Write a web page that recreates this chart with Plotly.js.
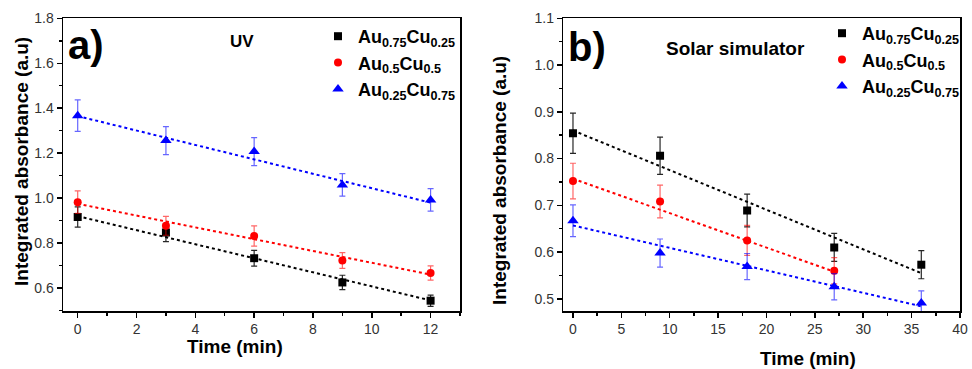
<!DOCTYPE html>
<html><head><meta charset="utf-8">
<script src="https://cdn.plot.ly/plotly-3.0.1.min.js"></script>
<style>body{margin:0;background:#fff}#chart{width:972px;height:369px}</style>
</head><body><div id="chart"></div>
<script>
// ---- Data: panel a) UV ----
const timeUV = [0, 3, 6, 9, 12];
const uvAu75 = [0.916, 0.847, 0.733, 0.625, 0.544];
const uvAu75Err = [0.045, 0.04, 0.035, 0.032, 0.025];
const uvAu50 = [0.982, 0.877, 0.832, 0.723, 0.667];
const uvAu50Err = [0.05, 0.042, 0.045, 0.035, 0.032];
const uvAu25 = [1.367, 1.256, 1.207, 1.059, 0.992];
const uvAu25Err = [0.07, 0.062, 0.062, 0.05, 0.05];
const fitUVx = [0, 12];
const fitUVAu75 = [0.92, 0.545];
const fitUVAu50 = [0.975, 0.66];
const fitUVAu25 = [1.365, 0.98];

// ---- Data: panel b) Solar simulator ----
const timeSol = [0, 9, 18, 27, 36];
const solAu75 = [0.854, 0.806, 0.689, 0.610, 0.573];
const solAu75Err = [0.043, 0.04, 0.035, 0.03, 0.03];
const timeSolAu50 = [0, 9, 18, 27];
const solAu50 = [0.752, 0.708, 0.625, 0.560];
const solAu50Err = [0.038, 0.035, 0.032, 0.028];
const solAu25 = [0.667, 0.598, 0.569, 0.526, 0.491];
const solAu25Err = [0.034, 0.03, 0.028, 0.028, 0.026];
const fitSolx = [0, 36];
const fitSolAu75 = [0.86, 0.555];
const fitSolAu50x = [0, 27];
const fitSolAu50 = [0.757, 0.558];
const fitSolAu25 = [0.657, 0.484];

const names = ['<b>Au<sub>0.75</sub>Cu<sub>0.25</sub></b>', '<b>Au<sub>0.5</sub>Cu<sub>0.5</sub></b>', '<b>Au<sub>0.25</sub>Cu<sub>0.75</sub></b>'];
const colors = ['#000000', '#ff0000', '#0000ff'];
const errColors = ['rgba(0,0,0,0.85)', 'rgba(255,0,0,0.6)', 'rgba(0,0,255,0.6)'];
const symbols = ['square', 'circle', 'triangle-up'];
const sizes = [8, 8, 10];

function fit(x, y, c, xa, ya) {
  return {x, y, xaxis: xa, yaxis: ya, mode: 'lines', showlegend: false, hoverinfo: 'skip',
    line: {color: c, dash: 'dot', width: 2}};
}
function pts(x, y, e, i, xa, ya, leg) {
  return {x, y, xaxis: xa, yaxis: ya, mode: 'markers', name: names[i], legend: leg,
    marker: {symbol: symbols[i], size: sizes[i], color: colors[i]},
    error_y: {type: 'data', array: e, visible: true, color: errColors[i], thickness: 1.2, width: 3}};
}

const traces = [
  fit(fitUVx, fitUVAu75, colors[0], 'x', 'y'),
  fit(fitUVx, fitUVAu50, colors[1], 'x', 'y'),
  fit(fitUVx, fitUVAu25, colors[2], 'x', 'y'),
  fit(fitSolx, fitSolAu75, colors[0], 'x2', 'y2'),
  fit(fitSolAu50x, fitSolAu50, colors[1], 'x2', 'y2'),
  fit(fitSolx, fitSolAu25, colors[2], 'x2', 'y2'),
  pts(timeUV, uvAu75, uvAu75Err, 0, 'x', 'y', 'legend'),
  pts(timeUV, uvAu50, uvAu50Err, 1, 'x', 'y', 'legend'),
  pts(timeUV, uvAu25, uvAu25Err, 2, 'x', 'y', 'legend'),
  pts(timeSol, solAu75, solAu75Err, 0, 'x2', 'y2', 'legend2'),
  pts(timeSolAu50, solAu50, solAu50Err, 1, 'x2', 'y2', 'legend2'),
  pts(timeSol, solAu25, solAu25Err, 2, 'x2', 'y2', 'legend2')
];

const W = 972, H = 369;
const px = v => v / W, py = v => 1 - v / H;
const tickFont = {family: 'Liberation Sans, Arial, sans-serif', size: 14, color: '#333'};
function axBase(extra) {
  return Object.assign({showgrid: false, zeroline: false, showline: true, linecolor: '#000', linewidth: 1.5,
    mirror: true, ticks: 'outside', ticklen: 5, tickwidth: 1.5, tickcolor: '#000', tickfont: tickFont}, extra);
}
const bold = {family: 'Liberation Sans, Arial, sans-serif', color: '#000'};
function ann(text, x, y, size, extra) {
  return Object.assign({text, x: px(x), y: py(y), xref: 'paper', yref: 'paper', showarrow: false,
    xanchor: 'center', yanchor: 'middle', font: Object.assign({}, bold, {size})}, extra || {});
}

const layout = {
  width: W, height: H, margin: {l: 0, r: 0, t: 0, b: 0}, paper_bgcolor: '#fff', plot_bgcolor: '#fff',
  xaxis: axBase({domain: [px(63), px(460)], range: [-0.5, 13], dtick: 2, tick0: 0, anchor: 'y',
    minor: {dtick: 1, ticks: 'outside', ticklen: 3, tickcolor: '#000'}}),
  yaxis: axBase({domain: [py(311), py(18.3)], range: [0.498, 1.8], dtick: 0.2, tick0: 0.6, tickformat: '.1f', anchor: 'x',
    minor: {dtick: 0.1, ticks: 'outside', ticklen: 3, tickcolor: '#000'}}),
  xaxis2: axBase({domain: [px(563.3), px(960)], range: [-1, 40], dtick: 5, tick0: 0, anchor: 'y2',
    minor: {dtick: 2.5, ticks: 'outside', ticklen: 3, tickcolor: '#000'}}),
  yaxis2: axBase({domain: [py(311), py(18.3)], range: [0.474, 1.1], dtick: 0.1, tick0: 0.5, tickformat: '.1f', anchor: 'x2',
    minor: {dtick: 0.05, ticks: 'outside', ticklen: 3, tickcolor: '#000'}}),
  legend: {x: px(318), y: py(18), xanchor: 'left', yanchor: 'top', bgcolor: 'rgba(0,0,0,0)',
    font: Object.assign({}, bold, {size: 18}), tracegroupgap: 0},
  legend2: {x: px(822), y: py(15), xanchor: 'left', yanchor: 'top', bgcolor: 'rgba(0,0,0,0)',
    font: Object.assign({}, bold, {size: 18}), tracegroupgap: 0},
  annotations: [
    ann('<b>a)</b>', 86, 45, 40),
    ann('<b>UV</b>', 242, 42, 17),
    ann('<b>b)</b>', 587, 47, 40),
    ann('<b>Solar simulator</b>', 735, 48, 19),
    ann('<b>Integrated absorbance (a.u)</b>', 22, 162, 19, {textangle: -90}),
    ann('<b>Integrated absorbance (a.u)</b>', 499, 181, 19, {textangle: -90}),
    ann('<b>Time (min)</b>', 235, 346, 19),
    ann('<b>Time (min)</b>', 808, 358, 19)
  ]
};

Plotly.newPlot('chart', traces, layout, {staticPlot: true});
</script></body></html>
